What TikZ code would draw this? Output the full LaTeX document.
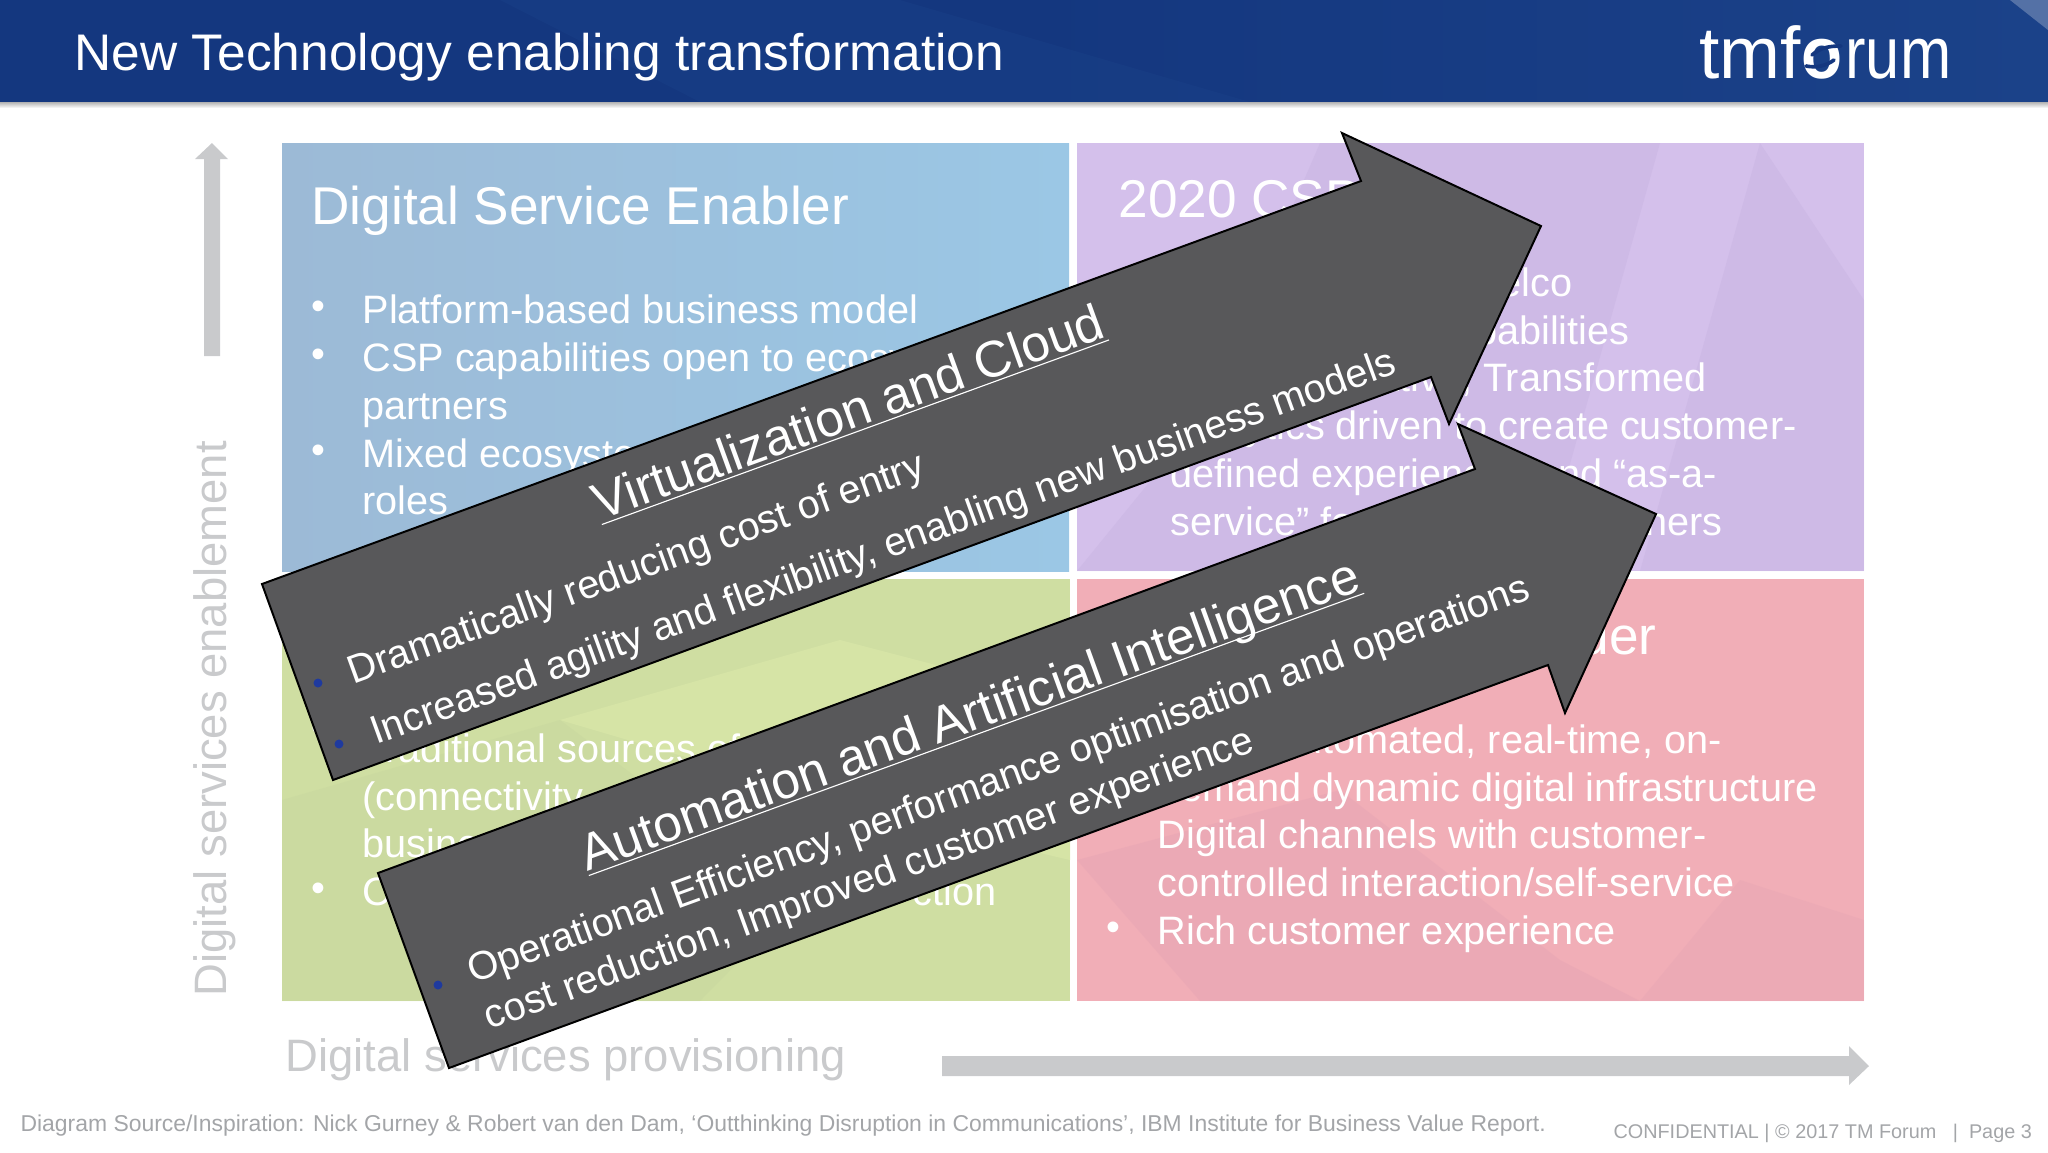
\documentclass[tikz,border=0pt]{standalone}
\usepackage{fontspec}
\setmainfont{Liberation Sans}
\usetikzlibrary{positioning}
\definecolor{navy}{HTML}{14377F}
\definecolor{navylight}{HTML}{1B4289}
\definecolor{axisgray}{HTML}{C9CACC}
\definecolor{notegray}{HTML}{A3A5A8}
\definecolor{arrowgray}{HTML}{58585A}
\definecolor{dotblue}{HTML}{1F3A9E}
\definecolor{bluebox}{HTML}{9CBAD6}
\definecolor{blueboxr}{HTML}{9BC7E5}
\definecolor{purplebox}{HTML}{D4C0EB}
\definecolor{purpledark}{HTML}{C4B0DE}
\definecolor{greenbox}{HTML}{CFDEA2}
\definecolor{greenlight}{HTML}{D8E6A8}
\definecolor{greendark}{HTML}{C4D49E}
\definecolor{pinkbox}{HTML}{F1AEB7}
\definecolor{pinkdark}{HTML}{E4A3B4}
\tikzset{slidetitle/.style={anchor=base west,inner sep=0,text=white,font=\fontsize{18.3}{20}\selectfont}}
\tikzset{logotext/.style={anchor=base west,inner sep=0,text=white,font=\fontsize{26}{30}\selectfont}}
\tikzset{boxtitle/.style={anchor=base west,inner sep=0,text=white,font=\fontsize{18.9}{22}\selectfont}}
\tikzset{boxline/.style={anchor=base west,inner sep=0,text=white,font=\fontsize{14.1}{17}\selectfont}}
\tikzset{boxlineend/.style={boxline,anchor=base east}}
\tikzset{axislabel/.style={anchor=base west,inner sep=0,text=axisgray,font=\fontsize{16.15}{19}\selectfont}}
\tikzset{footnote/.style={anchor=base west,inner sep=0,text=notegray,font=\fontsize{8.15}{10}\selectfont}}
\tikzset{pagenote/.style={footnote,font=\fontsize{7.05}{9}\selectfont}}
\tikzset{bigarrow/.style={draw=black,line width=0.7pt,fill=arrowgray}}
\tikzset{arrowhead/.style={anchor=base west,inner sep=0,rotate=20,text=white,font=\fontsize{18.2}{22}\selectfont}}
\tikzset{arrowline/.style={anchor=base west,inner sep=0,rotate=20,text=white,font=\fontsize{14.15}{17}\selectfont}}
\tikzset{dot/.style={circle,fill=dotblue,inner sep=0,minimum size=3.2pt}}
\begin{document}
\begin{tikzpicture}[x=0.0125cm,y=-0.0125cm]
    \useasboundingbox (0,0) rectangle (2048,1152);

    % header
    \fill[left color=navy,right color=navylight,middle color=navy] (0,0) rectangle (2048,102);
    \fill[navylight,opacity=0.4] (500,0) -- (900,0) -- (1250,102) -- (700,102) -- cycle;
    \fill[white,opacity=0.25] (2010,0) -- (2048,0) -- (2048,30) -- cycle;
    \fill[top color=black!30,bottom color=white] (0,102) rectangle (2048,108);
    \node[slidetitle] (title) at (74,70) {New Technology enabling transformation};
    \node[logotext] (logotmf) at (1699,78) {tmf};
    \node[logotext,font=\fontsize{26}{30}\bfseries,xscale=0.92] (logoo) at (1801,78) {o};
    \node[logotext,xscale=0.84] (logorum) at (1845,78) {rum};
    \draw[navy,line width=1.3pt,line cap=round] (1841,46) .. controls (1828,46) and (1820,48) .. (1812,55);
    \draw[navy,line width=1.3pt,line cap=round] (1806,66) .. controls (1816,68) and (1826,66) .. (1834,60);

    % quadrants
    \fill[left color=bluebox,right color=blueboxr] (282,143) rectangle (1069,571);
    \fill[purplebox] (1077,143) rectangle (1864,571);
    \fill[greenbox] (282,579) rectangle (1070,1001);
    \fill[pinkbox] (1077,579) rectangle (1864,1001);
    \fill[purpledark,opacity=0.35] (1320,143) -- (1660,143) -- (1540,571) -- (1077,571) -- (1200,420) -- cycle;
    \fill[purpledark,opacity=0.35] (1760,143) -- (1864,300) -- (1864,571) -- (1640,571) -- cycle;
    \fill[greenlight,opacity=0.8] (560,720) -- (840,640) -- (1070,700) -- (1070,860) -- (900,820) -- cycle;
    \fill[greendark,opacity=0.35] (282,800) -- (560,720) -- (800,900) -- (700,1001) -- (282,1001) -- cycle;
    \fill[pinkdark,opacity=0.4] (1077,860) -- (1340,790) -- (1560,960) -- (1640,1001) -- (1200,1001) -- cycle;
    \fill[pinkdark,opacity=0.35] (1640,1001) -- (1740,880) -- (1864,920) -- (1864,1001) -- cycle;

    % top left box
    \node[boxtitle] (enabler) at (311,224) {Digital Service Enabler};
    \node[boxline] (d1) at (311,319) {•};
    \node[boxline] (d2) at (311,367) {•};
    \node[boxline] (d3) at (311,463) {•};
    \node[boxline] (e1) at (362,323) {Platform-based business model};
    \node[boxline] (e2) at (362,371) {CSP capabilities open to ecosystem};
    \node[boxline] (e3) at (362,419) {partners};
    \node[boxline] (e4) at (362,467) {Mixed ecosystem};
    \node[boxline] (e5) at (362,514) {roles};

    % top right box
    \node[boxtitle] (csp) at (1118,217) {2020 CSP};
    \node[boxlineend] (p1) at (1573,296) {Telco};
    \node[boxlineend] (p2) at (1630,344) {capabilities};
    \node[boxlineend] (p3) at (1707,391) {ative, Transformed};
    \node[boxline] (p4) at (1170,439) {analytics driven to create customer-};
    \node[boxline] (p5) at (1170,487) {defined experiences and “as-a-};
    \node[boxline] (p6) at (1170,535) {service” for};
    \node[boxlineend] (p7) at (1723,535) {partners};

    % bottom left box
    \node[boxline] (d4) at (311,741) {•};
    \node[boxline] (d5) at (311,901) {•};
    \node[boxline] (g1) at (362,762) {Traditional sources of};
    \node[boxline] (g2) at (362,810) {(connectivity};
    \node[boxline] (g3) at (362,857) {business};
    \node[boxline] (g4) at (362,905) {C};
    \node[boxlineend] (g5) at (997,905) {ction};

    % bottom right box
    \node[boxtitle,anchor=base east] (provider) at (1657,654) {Provider};
    \node[boxlineend] (r1) at (1722,753) {Automated, real-time, on-};
    \node[boxlineend] (r2) at (1818,801) {demand dynamic digital infrastructure};
    \node[boxline] (r3) at (1157,848) {Digital channels with customer-};
    \node[boxline] (r4) at (1157,896) {controlled interaction/self-service};
    \node[boxline] (d6) at (1106,940) {•};
    \node[boxline] (r5) at (1157,944) {Rich customer experience};

    % axes
    \fill[axisgray] (204,356) -- (204,159) -- (195,159) -- (212,143) -- (228,159) -- (220,159) -- (220,356) -- cycle;
    \fill[axisgray] (942,1056) -- (1849,1056) -- (1849,1046) -- (1869,1066) -- (1849,1085) -- (1849,1076) -- (942,1076) -- cycle;
    \node[axislabel,rotate=90] (enablement) at (226,997) {Digital services enablement};
    \node[axislabel] (provisioning) at (285,1071) {Digital services provisioning};

    % arrows
    \draw[bigarrow] (262,584) -- (1361,181) -- (1342,133) -- (1541,226) -- (1449,424) -- (1431,377) -- (333,780) -- cycle;
    \draw[bigarrow] (378,873) -- (1475,469) -- (1458,424) -- (1656,514) -- (1565,713) -- (1548,665) -- (449,1068) -- cycle;

    \node[arrowhead] (virt) at (600,521) {\underline{\smash{Virtualization and Cloud}}};
    \node[dot] (v1) at (318,683) {};
    \node[arrowline] (vt1) at (353,685) {Dramatically reducing cost of entry};
    \node[dot] (v2) at (339,744) {};
    \node[arrowline] (vt2) at (376,745) {Increased agility and flexibility, enabling new business models};

    \node[arrowhead] (auto) at (587,872) {\underline{\smash{Automation and Artificial Intelligence}}};
    \node[dot] (a1) at (438,985) {};
    \node[arrowline] (at1) at (473,984) {Operational Efficiency, performance optimisation and operations};
    \node[arrowline] (at2) at (489,1030) {cost reduction, Improved customer experience};

    % footer
    \node[footnote] (source) at (20,1131) {Diagram Source/Inspiration: Nick Gurney \& Robert van den Dam, ‘Outthinking Disruption in Communications’, IBM Institute for Business Value Report.};
    \node[pagenote] (confidential) at (1613,1138) {CONFIDENTIAL | © 2017 TM Forum \ \ | \ Page 3};
\end{tikzpicture}
\end{document}
